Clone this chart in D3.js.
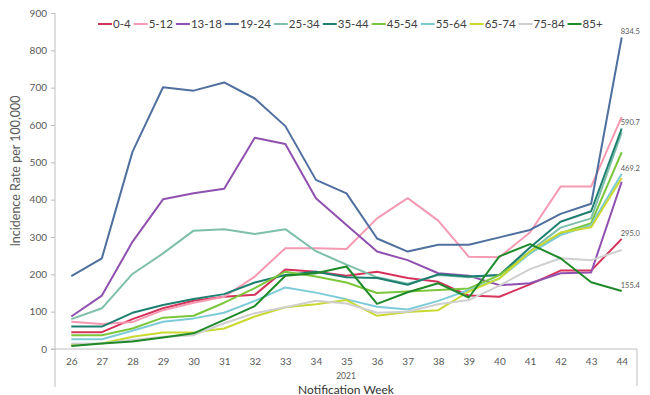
<!DOCTYPE html>
<html>
<head>
<meta charset="utf-8">
<script src="https://cdn.jsdelivr.net/npm/d3@7"></script>
<style>
  body { margin: 0; background: #fff; }
  text { font-family: Lato, "Open Sans", sans-serif; }
</style>
</head>
<body>
<div id="chart"></div>
<script>
// weeks of 2021
const weeks = [26, 27, 28, 29, 30, 31, 32, 33, 34, 35, 36, 37, 38, 39, 40, 41, 42, 43, 44];
const yTicks = [0, 100, 200, 300, 400, 500, 600, 700, 800, 900];

const groups = ["0-4", "5-12", "13-18", "19-24", "25-34", "35-44", "45-54", "55-64", "65-74", "75-84", "85+"];
const colors = ["#d6335b", "#f59ab2", "#9050b0", "#4f6f9f", "#7dbfaa", "#1d7f70", "#7cc63c", "#7ecbd8", "#c9d930", "#cfcfcf", "#1f8a2a"];

// values, one per week
const v0_4   = [45, 45, 80, 109, 129, 140, 145, 213, 207, 196, 207, 190, 180, 143, 140, 173, 210, 210, 295.0];
const v5_12  = [73, 67, 72, 104, 124, 140, 194, 270, 270, 268, 350, 404, 344, 247, 246, 312, 435, 435, 622];
const v13_18 = [87, 143, 287, 401, 417, 429, 566, 549, 404, 332, 261, 238, 203, 196, 171, 176, 203, 205, 448];
const v19_24 = [195, 243, 528, 701, 692, 714, 671, 597, 453, 417, 296, 261, 279, 279, 299, 319, 362, 389, 834.5];
const v25_34 = [80, 109, 201, 256, 317, 321, 308, 321, 262, 226, 192, 175, 198, 192, 198, 262, 325, 350, 580];
const v35_44 = [60, 60, 97, 118, 134, 147, 178, 198, 207, 192, 190, 172, 200, 194, 198, 272, 341, 369, 590.7];
const v45_54 = [37, 37, 55, 84, 89, 124, 163, 207, 194, 178, 150, 154, 158, 162, 198, 256, 310, 337, 527];
const v55_64 = [26, 26, 49, 73, 82, 97, 129, 165, 151, 133, 113, 106, 129, 158, 189, 256, 305, 332, 469.2];
const v65_74 = [11, 15, 33, 44, 44, 55, 87, 112, 120, 131, 89, 99, 104, 154, 189, 261, 312, 326, 458];
const v75_84 = [15, 15, 24, 33, 37, 69, 96, 112, 129, 122, 97, 100, 120, 131, 170, 214, 243, 238, 265];
const v85    = [8, 15, 20, 31, 42, 78, 115, 196, 203, 221, 121, 152, 176, 138, 248, 281, 243, 179, 155.4];

const seriesValues = [v0_4, v5_12, v13_18, v19_24, v25_34, v35_44, v45_54, v55_64, v65_74, v75_84, v85];
// series whose last value is printed at the end of the line
const labelled = ["0-4", "19-24", "35-44", "55-64", "85+"];

const series = groups.map((g, i) => ({
  name: g,
  color: colors[i],
  values: weeks.map((w, j) => ({ week: w, value: seriesValues[i][j] }))
}));

const W = 650, H = 395;
const svg = d3.select("#chart").append("svg")
  .attr("width", W).attr("height", H);

const x = d3.scalePoint().domain(weeks).range([56, 637]).padding(0.5);
const y = d3.scaleLinear().domain([0, 900]).range([349, 13]);

const axisGrey = "#bfbfbf";
const labelGrey = "#595959";

// y axis
const yAxis = svg.append("g")
  .attr("transform", "translate(55,0)")
  .call(d3.axisLeft(y).tickValues(yTicks).tickSize(4).tickPadding(4));
yAxis.select(".domain").remove();
yAxis.selectAll(".tick line").attr("stroke", axisGrey);
yAxis.selectAll(".tick text").attr("fill", labelGrey).style("font-size", "10px");
svg.append("line")
  .attr("x1", 55).attr("x2", 55).attr("y1", y(900)).attr("y2", 387)
  .attr("stroke", axisGrey);

// x axis
const xAxis = svg.append("g")
  .attr("transform", `translate(0,${y(0)})`)
  .call(d3.axisBottom(x).tickSize(0).tickPadding(9));
xAxis.select(".domain").remove();
xAxis.selectAll(".tick text").attr("fill", labelGrey).style("font-size", "10px");
svg.append("line")
  .attr("x1", 51).attr("x2", 637).attr("y1", y(0)).attr("y2", y(0))
  .attr("stroke", axisGrey);
svg.append("line")
  .attr("x1", 637).attr("x2", 637).attr("y1", y(0)).attr("y2", 386)
  .attr("stroke", axisGrey);

svg.append("text")
  .attr("x", 346).attr("y", 379)
  .attr("text-anchor", "middle")
  .attr("fill", labelGrey)
  .style("font-size", "8.5px")
  .text("2021");

svg.append("text")
  .attr("x", 346).attr("y", 393.5)
  .attr("text-anchor", "middle")
  .attr("fill", "#333")
  .style("font-size", "12px")
  .text("Notification Week");

svg.append("text")
  .attr("transform", "translate(20,171) rotate(-90)")
  .attr("text-anchor", "middle")
  .attr("fill", labelGrey)
  .style("font-size", "12.5px")
  .text("Incidence Rate per 100,000");

// lines
const line = d3.line()
  .x(d => x(d.week))
  .y(d => y(d.value));

svg.append("g").selectAll("path")
  .data(series)
  .join("path")
  .attr("fill", "none")
  .attr("stroke", d => d.color)
  .attr("stroke-width", 2)
  .attr("stroke-linejoin", "round")
  .attr("d", d => line(d.values));

// end labels
svg.append("g").selectAll("text")
  .data(series.filter(s => labelled.includes(s.name)))
  .join("text")
  .attr("x", d => x(44) - 1)
  .attr("y", d => y(d.values[d.values.length - 1].value) - 3)
  .attr("fill", labelGrey)
  .style("font-size", "7.5px")
  .text(d => d.values[d.values.length - 1].value.toFixed(1));

// legend
const legend = svg.append("g").attr("transform", "translate(98,24)");
let lx = 0;
series.forEach(s => {
  legend.append("line")
    .attr("x1", lx).attr("x2", lx + 14).attr("y1", 0).attr("y2", 0)
    .attr("stroke", s.color).attr("stroke-width", 2);
  const t = legend.append("text")
    .attr("x", lx + 15).attr("y", 4)
    .attr("fill", "#404040")
    .style("font-size", "11.5px")
    .text(s.name);
  lx += 15 + t.node().getComputedTextLength() + 3;
});
</script>
</body>
</html>
